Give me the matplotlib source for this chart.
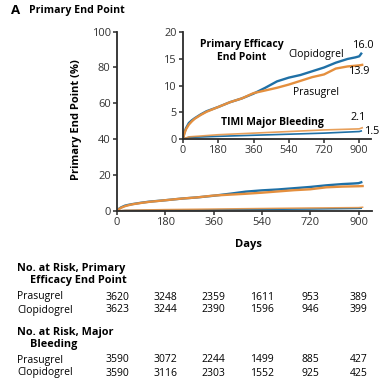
import matplotlib
matplotlib.use('agg')
import matplotlib.pyplot as plt

# cumulative incidence (%)
eff_clop_days = [0, 7, 15, 30, 45, 60, 90, 120, 180, 240, 300, 360, 420, 480,
                 540, 600, 660, 720, 780, 840, 880, 900, 910]
eff_clop = [0, 1.2, 2.0, 3.0, 3.5, 3.9, 4.6, 5.2, 6.0, 6.9, 7.6, 8.5, 9.6, 10.8,
            11.5, 12.0, 12.7, 13.4, 14.3, 15.0, 15.3, 15.5, 16.0]
eff_pras_days = [0, 7, 15, 30, 45, 60, 90, 120, 180, 240, 300, 360, 420, 480,
                 540, 600, 660, 720, 780, 840, 900, 915]
eff_pras = [0, 1.0, 1.8, 2.7, 3.3, 3.8, 4.5, 5.1, 6.0, 6.9, 7.6, 8.6, 9.1, 9.6,
            10.2, 10.9, 11.6, 12.1, 13.2, 13.6, 13.8, 13.9]
bleed_clop_days = [0, 30, 180, 360, 540, 720, 840, 900, 910]
bleed_clop = [0, 0.3, 0.5, 0.7, 0.9, 1.1, 1.3, 1.4, 1.5]
bleed_pras_days = [0, 30, 180, 360, 540, 720, 900, 915]
bleed_pras = [0, 0.4, 0.8, 1.1, 1.4, 1.7, 1.9, 2.1]

day_ticks = [0, 180, 360, 540, 720, 900]
risk_eff_pras = [3620, 3248, 2359, 1611, 953, 389]
risk_eff_clop = [3623, 3244, 2390, 1596, 946, 399]
risk_bleed_pras = [3590, 3072, 2244, 1499, 885, 427]
risk_bleed_clop = [3590, 3116, 2303, 1552, 925, 425]

BLUE = '#1f70a6'
ORANGE = '#e48f3e'
SPINE = '#2b2b2b'
plt.rcParams['font.family'] = ['Open Sans', 'DejaVu Sans']

W, H = 388, 392
fig = plt.figure(figsize=(W / 100, H / 100), dpi=100)


def px(x, y):
    return x / W, 1 - y / H


def txt(x, y, s, **kw):
    fx, fy = px(x, y)
    fig.text(fx, fy, s, va='center', **kw)


def style_axes(ax, size):
    for side in ['top', 'right']:
        ax.spines[side].set_visible(False)
    for side in ['left', 'bottom']:
        ax.spines[side].set_linewidth(1.3)
        ax.spines[side].set_color(SPINE)
    ax.tick_params(length=3, width=1.1, color=SPINE, labelsize=size,
                   labelcolor='#333333', pad=1.5)


# main panel
ax = fig.add_axes([117 / W, 1 - 211 / H, 255 / W, 179.5 / H])
ax.plot(bleed_clop_days, bleed_clop, color=BLUE, lw=1.1)
ax.plot(bleed_pras_days, bleed_pras, color=ORANGE, lw=1.1, alpha=0.85)
ax.plot(eff_clop_days, eff_clop, color=BLUE, lw=1.7)
ax.plot(eff_pras_days, eff_pras, color=ORANGE, lw=1.7)
ax.set_xlim(0, 950)
ax.set_ylim(0, 100)
ax.set_xticks(day_ticks)
ax.set_yticks([0, 20, 40, 60, 80, 100])
style_axes(ax, 8)

# inset
ins = fig.add_axes([183 / W, 1 - 139 / H, 188 / W, 106.7 / H])
ins.plot(bleed_clop_days, bleed_clop, color=BLUE, lw=1.2)
ins.plot(bleed_pras_days, bleed_pras, color=ORANGE, lw=1.2, alpha=0.85)
ins.plot(eff_clop_days, eff_clop, color=BLUE, lw=1.7)
ins.plot(eff_pras_days, eff_pras, color=ORANGE, lw=1.7)
ins.set_xlim(0, 960)
ins.set_ylim(0, 20)
ins.set_xticks(day_ticks)
ins.set_yticks([0, 5, 10, 15, 20])
ins.patch.set_alpha(0)
style_axes(ins, 7.8)

# inset annotations
txt(242, 44, 'Primary Efficacy', ha='center', fontsize=7.5, fontweight='bold')
txt(242, 57, 'End Point', ha='center', fontsize=7.5, fontweight='bold')
txt(316, 55, 'Clopidogrel', ha='center', fontsize=7.5)
txt(316, 92, 'Prasugrel', ha='center', fontsize=7.5)
txt(364, 45, '16.0', ha='center', fontsize=7.8)
txt(360, 72, '13.9', ha='center', fontsize=7.8)
txt(272, 123, 'TIMI Major Bleeding', ha='center', fontsize=7.5, fontweight='bold')
txt(358, 118, '2.1', ha='center', fontsize=7.8)
txt(373, 132, '1.5', ha='center', fontsize=7.8)

# titles
txt(11, 11, 'A', ha='left', fontsize=9.5, fontweight='bold')
txt(29, 11, 'Primary End Point', ha='left', fontsize=7.6, fontweight='bold')
fx, fy = px(77, 120)
fig.text(fx, fy, 'Primary End Point (%)', rotation=90, ha='center',
         va='center', fontsize=8, fontweight='bold')
txt(248, 245, 'Days', ha='center', fontsize=8, fontweight='bold')

# numbers at risk
txt(17, 268, 'No. at Risk, Primary', ha='left', fontsize=7.8, fontweight='bold')
txt(30, 281, 'Efficacy End Point', ha='left', fontsize=7.8, fontweight='bold')
txt(17, 332, 'No. at Risk, Major', ha='left', fontsize=7.8, fontweight='bold')
txt(30, 345, 'Bleeding', ha='left', fontsize=7.8, fontweight='bold')
rows = [('Prasugrel', risk_eff_pras, 297), ('Clopidogrel', risk_eff_clop, 310),
        ('Prasugrel', risk_bleed_pras, 360), ('Clopidogrel', risk_bleed_clop, 373)]
for name, counts, y in rows:
    txt(17, y, name, ha='left', fontsize=7.5)
    for d, n in zip(day_ticks, counts):
        x = 117 + d * 255 / 950
        txt(x, y, str(n), ha='center', fontsize=7.5)

fig.savefig('out.png', dpi=100)
plt.close(fig)
